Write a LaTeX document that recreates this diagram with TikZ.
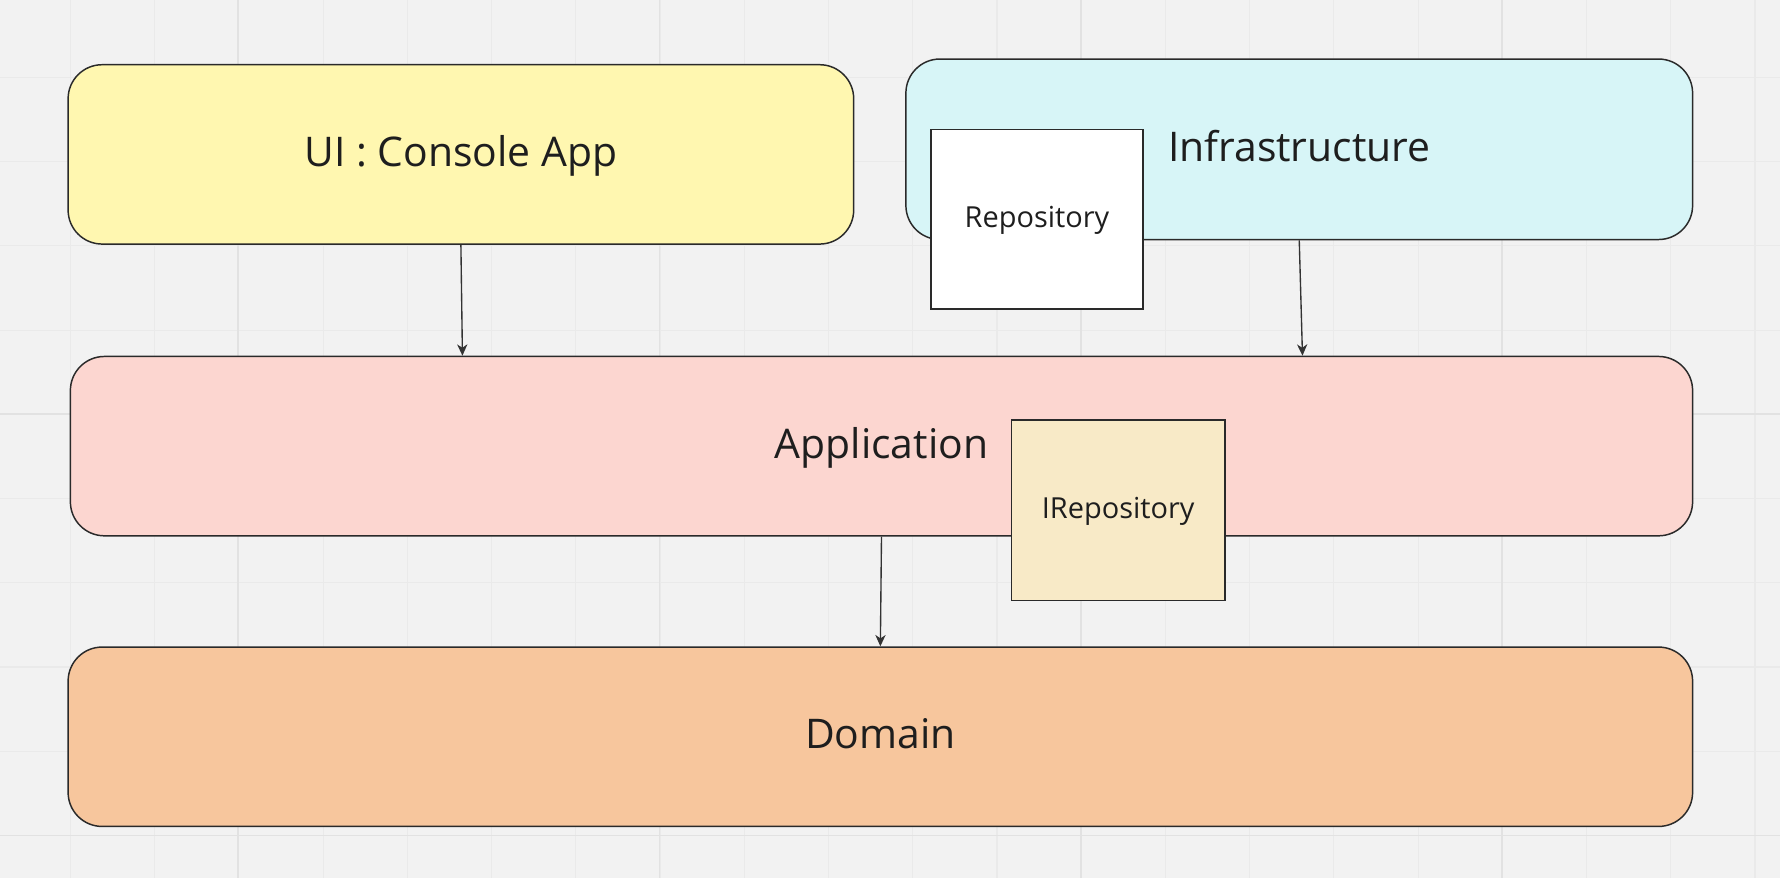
\documentclass[tikz,border=0pt]{standalone}
\usepackage{fontspec}
\setmainfont{Open Sans}
\usetikzlibrary{arrows.meta,calc}
\definecolor{bgc}{HTML}{F2F2F2}
\definecolor{gridminor}{HTML}{EAEAEA}
\definecolor{gridmajor}{HTML}{E2E2E2}
\definecolor{yel}{HTML}{FFF7B0}
\definecolor{cya}{HTML}{D7F5F7}
\definecolor{pnk}{HTML}{FCD6D0}
\definecolor{crm}{HTML}{F8EAC7}
\definecolor{org}{HTML}{F7C69D}
\definecolor{strk}{HTML}{2A2A2A}
\definecolor{txtc}{HTML}{1E1E1E}
\definecolor{arrc}{HTML}{333333}
\tikzset{
  layerbox/.style={draw=strk, line width=1.3pt, rounded corners=30pt, inner sep=0pt,
    text=txtc, font=\fontsize{36}{43}\selectfont, text height=25.7pt, text depth=4.3pt},
  itembox/.style={draw=strk, line width=1.3pt, inner sep=0pt,
    text=txtc, font=\fontsize{25.5}{30}\selectfont, text height=18.2pt, text depth=3.1pt},
  arr/.style={draw=arrc, line width=1.2pt, -{Stealth[length=10pt,width=9pt,inset=3pt]}}
}
\begin{document}
\begin{tikzpicture}[x=1pt,y=-1pt]
\useasboundingbox (0,0) rectangle (1568,773);
\fill[bgc] (0,0) rectangle (1568,773);
% grid
\foreach \i in {0,...,22} {
  \pgfmathsetmacro\xx{-12.2+74.2*\i}
  \draw[gridminor, line width=1pt] (\xx,0) -- (\xx,773);
}
\foreach \j in {0,...,11} {
  \pgfmathsetmacro\yy{-6+74.2*\j}
  \draw[gridminor, line width=1pt] (0,\yy) -- (1568,\yy);
}
\foreach \xx in {210,581,952,1323} {
  \draw[gridmajor, line width=1.6pt] (\xx,0) -- (\xx,773);
}
\foreach \yy in {365,736} {
  \draw[gridmajor, line width=1.6pt] (0,\yy) -- (1568,\yy);
}
% layers
\node[layerbox, fill=yel, minimum width=692pt, minimum height=158pt] (ui) at (406,136) {UI : Console App};
\node[layerbox, fill=cya, minimum width=693pt, minimum height=159pt] (infra) at (1144.5,131.5) {Infrastructure};
\node[itembox, fill=white, minimum width=187pt, minimum height=158pt] (repo) at (913.5,193) {Repository};
\node[layerbox, fill=pnk, minimum width=1429pt, minimum height=158pt] (app) at (776.5,393) {Application};
\node[itembox, fill=crm, minimum width=188pt, minimum height=159pt] (irepo) at (985,449.5) {IRepository};
\node[layerbox, fill=org, minimum width=1431pt, minimum height=158pt] (domain) at (775.5,649) {Domain};
% connectors
\draw[arr] (ui.south) -- ($(app.north west)+(346,0)$);
\draw[arr] (infra.south) -- ($(app.north west)+(1086,0)$);
\draw[arr] (app.south) -- (domain.north);
\end{tikzpicture}
\end{document}
